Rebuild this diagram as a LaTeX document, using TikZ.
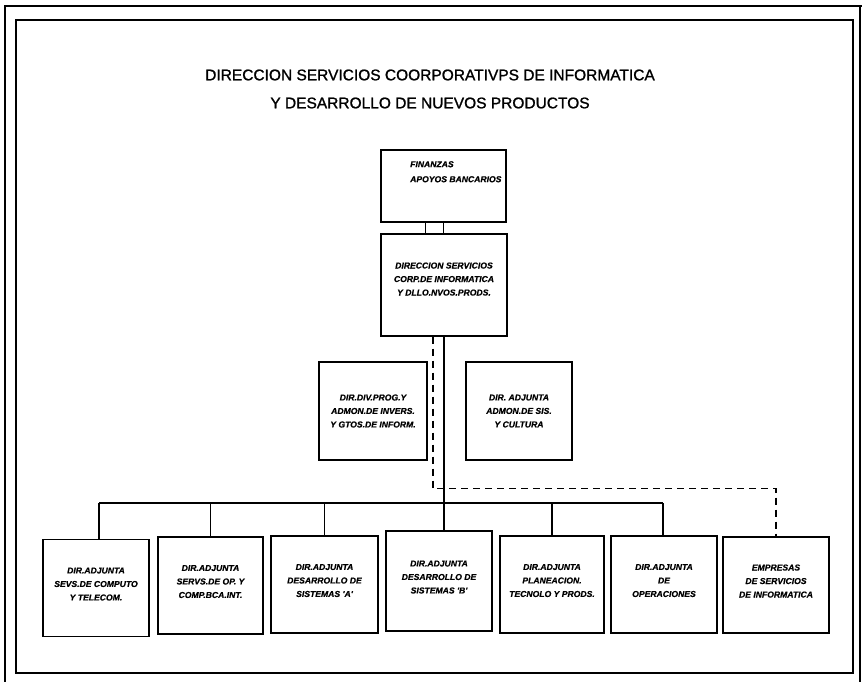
\documentclass[tikz,border=0pt]{standalone}
\usepackage{fontspec}
\setmainfont{Liberation Sans}
\newfontfamily\headfont[FakeBold=1.2]{Liberation Sans}
\newfontfamily\unitfont[FakeBold=0.6]{Liberation Sans}
\usetikzlibrary{calc}
\begin{document}
\begin{tikzpicture}[x=1pt,y=-1pt,
  unit/.style={draw,line width=1.4pt,rectangle,inner sep=0pt,
    font=\unitfont\fontsize{8.6}{13.5}\selectfont\bfseries\itshape,align=center},
  link/.style={line width=1.3pt},
  dotlink/.style={line width=1.3pt,dash pattern=on 7pt off 5pt},
  titletext/.style={font=\headfont\fontsize{15.5}{28}\selectfont,align=center}]
\useasboundingbox (0,0) rectangle (862,682);

% page frames
\draw[line width=2.8pt] (5,682) -- (5,6) -- (862,6);
\draw[line width=1.2pt] (860,6) -- (860,682);
\draw[line width=1.5pt] (16,20) rectangle (853,673);

% heading
\node[titletext] (title) at (430,89)
  {DIRECCION SERVICIOS COORPORATIVPS DE INFORMATICA\\
   Y DESARROLLO DE NUEVOS PRODUCTOS};

% upper units
\node[unit,minimum width=125,minimum height=72] (fin) at (443.5,186) {};
\node[font=\unitfont\fontsize{8.6}{15}\selectfont\bfseries\itshape,align=left,
  anchor=north west,inner sep=0pt] (fintext) at (410,161)
  {FINANZAS\\APOYOS BANCARIOS};
\node[unit,minimum width=126,minimum height=102,text depth=12pt] (dir) at (444,285)
  {DIRECCION SERVICIOS\\CORP.DE INFORMATICA\\Y DLLO.NVOS.PRODS.};

% staff units
\node[unit,minimum width=108,minimum height=98] (div) at (373,411)
  {DIR.DIV.PROG.Y\\ADMON.DE INVERS.\\Y GTOS.DE INFORM.};
\node[unit,minimum width=106,minimum height=98] (adm) at (519,411)
  {DIR. ADJUNTA\\ADMON.DE SIS.\\Y CULTURA};

% lower units
\tikzset{low/.style={unit,minimum width=106,minimum height=97,text depth=8pt}}
\node[low] (b1) at (96,588)    {DIR.ADJUNTA\\SEVS.DE COMPUTO\\Y TELECOM.};
\node[low,minimum width=105] (b2) at (210.5,585.5) {DIR.ADJUNTA\\SERVS.DE OP. Y\\COMP.BCA.INT.};
\node[low,minimum width=107] (b3) at (324.5,584.5) {DIR.ADJUNTA\\DESARROLLO DE\\SISTEMAS 'A'};
\node[low,minimum height=100] (b4) at (439,581)   {DIR.ADJUNTA\\DESARROLLO DE\\SISTEMAS 'B'};
\node[low,minimum width=104] (b5) at (552,584.5)  {DIR.ADJUNTA\\PLANEACION.\\TECNOLO Y PRODS.};
\node[low] (b6) at (664,584.5)  {DIR.ADJUNTA\\DE\\OPERACIONES};
\node[low,minimum height=96] (b7) at (776,585)    {EMPRESAS\\DE SERVICIOS\\DE INFORMATICA};

% links
\draw[link] ([xshift=-18pt]fin.south) -- ([xshift=-18pt]fin.south |- dir.north);
\draw[link] (fin.south) -- (fin.south |- dir.north);
\draw[link] (dir.south) -- (dir.south |- b4.north);
\coordinate (busL) at (99,503);
\coordinate (busR) at (663,503);
\draw[link] (busL) -- (busR);
\draw[link] (busL) -- (busL |- b1.north);
\draw[link] (b2.north |- busL) -- (b2.north);
\draw[link] (b3.north |- busL) -- (b3.north);
\draw[link] (b5.north |- busL) -- (b5.north);
\draw[link] (busR) -- (busR |- b6.north);
\draw[dotlink] ([xshift=-11pt]dir.south) |- ($(b7.north)+(0,-48)$) -- (b7.north);
\end{tikzpicture}
\end{document}
